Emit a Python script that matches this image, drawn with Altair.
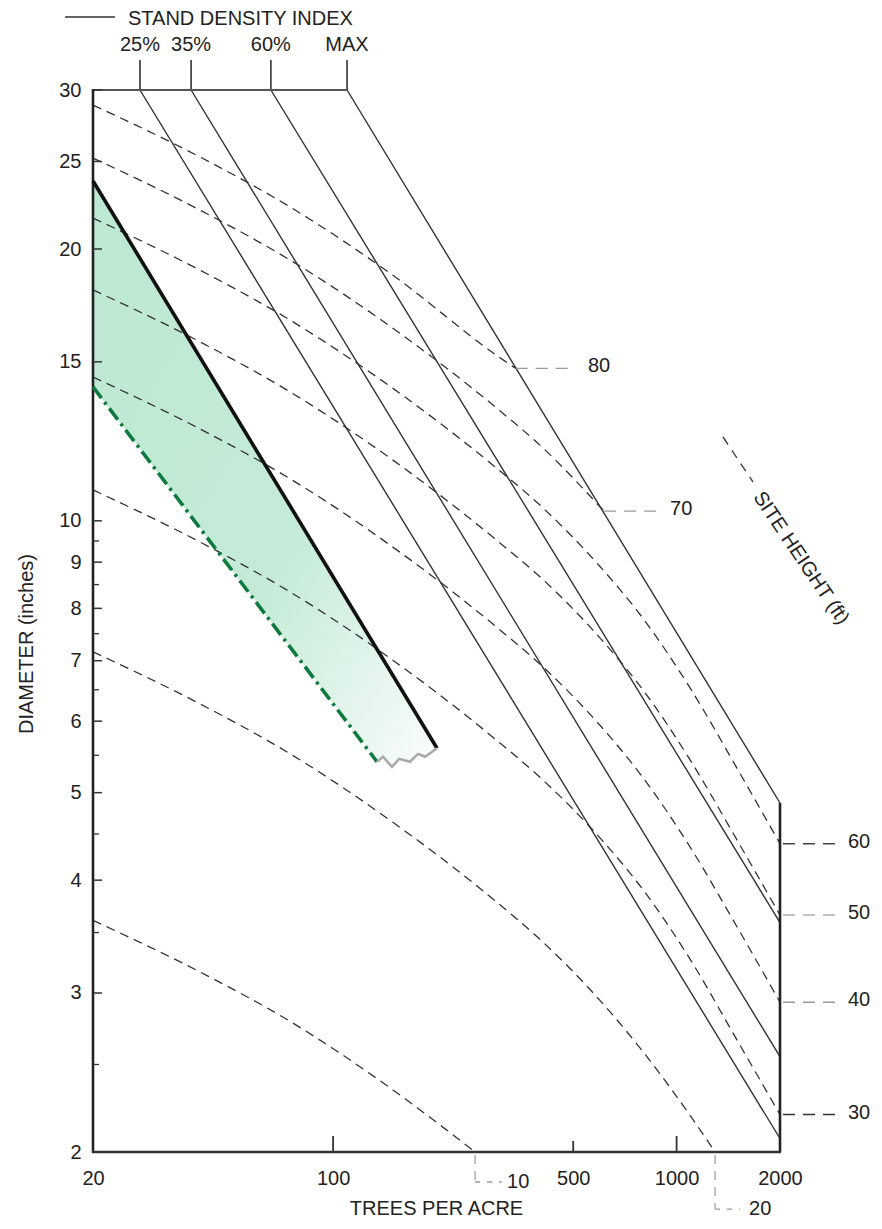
import altair as alt
import pandas as pd

FONT = "Liberation Sans"

# ---------------- data ----------------
# Site-height curves (dashed): trees per acre vs quadratic mean diameter
SITE_80_TPA = [20, 40, 75, 150, 300, 340]
SITE_80_DIA = [28.87, 25.41, 22.26, 18.68, 15.24, 14.75]
SITE_70_TPA = [20, 40, 75, 150, 300, 400, 615]
SITE_70_DIA = [25.22, 22.19, 19.44, 16.32, 13.32, 12.13, 10.25]
SITE_GRID_TPA = [20, 40, 75, 150, 300, 400, 600, 800, 1100, 1500, 2000]
SITE_60_DIA = [21.64, 19.04, 16.68, 14.00, 11.43, 10.41, 8.89, 7.79, 6.51, 5.32, 4.39]
SITE_50_DIA = [18.02, 15.86, 13.89, 11.66, 9.51, 8.67, 7.41, 6.49, 5.42, 4.43, 3.66]
SITE_40_DIA = [14.43, 12.70, 11.13, 9.34, 7.62, 6.94, 5.93, 5.19, 4.34, 3.55, 2.93]
SITE_30_DIA = [10.82, 9.52, 8.34, 7.00, 5.71, 5.20, 4.45, 3.90, 3.26, 2.66, 2.20]
SITE_20_TPA = [20, 40, 75, 150, 300, 400, 600, 800, 1100, 1294]
SITE_20_DIA = [7.16, 6.30, 5.52, 4.63, 3.78, 3.44, 2.94, 2.58, 2.19, 2.0]
SITE_10_TPA = [20, 40, 75, 150, 259]
SITE_10_DIA = [3.61, 3.18, 2.79, 2.34, 2.0]

# Site labels
RIGHT_SITE_LABELS = ["60", "50", "40", "30"]
RIGHT_SITE_DIA = [4.39, 3.66, 2.93, 2.20]
RIGHT_SITE_COLORS = ["#444444", "#b0b0b0", "#999999", "#333333"]
INNER_SITE_LABELS = ["80", "70"]
INNER_SITE_TPA = [340, 615]
INNER_SITE_DIA = [14.75, 10.25]
INNER_LEADER_END_TPA = [506, 883]
INNER_LABEL_TPA = [552, 957]
BOTTOM_SITE_LABELS = ["10", "20"]
BOTTOM_SITE_TPA = [259, 1294]
BOTTOM_LEADER_END_TPA = [310, 1530]
BOTTOM_LABEL_TPA = [321, 1625]
BOTTOM_LEADER_DIA = [1.853, 1.729]

# Stand density index lines
SDI_LABELS = ["25%", "35%", "60%", "MAX"]
SDI_TOP_TPA = [27.4, 38.6, 65.9, 109.8]
SDI_TOP_DIA = [30, 30, 30, 30]
SDI_END_TPA = [2000, 2000, 2000, 2000]
SDI_END_DIA = [2.07, 2.55, 3.59, 4.87]

# Management zone (shaded)
UPPER_TPA = [20, 200.7]
UPPER_DIA = [23.79, 5.60]
LOWER_TPA = [20, 134.2]
LOWER_DIA = [14.07, 5.41]
ZIGZAG_TPA = [134.2, 139.8, 148.4, 155.6, 167.4, 176.7, 185.2, 200.7]
ZIGZAG_DIA = [5.41, 5.48, 5.34, 5.45, 5.41, 5.52, 5.48, 5.60]
ZONE_TPA = [20, 134.2, 139.8, 148.4, 155.6, 167.4, 176.7, 185.2, 200.7]
ZONE_TOP = [23.79, 7.21, 7.03, 6.77, 6.57, 6.28, 6.07, 5.89, 5.60]
ZONE_BOTTOM = [14.07, 5.41, 5.48, 5.34, 5.45, 5.41, 5.52, 5.48, 5.60]

# Axis ticks
X_LABELS = [20, 100, 500, 1000, 2000]
X_TICKS_LONG = [100, 1000]
X_TICKS_SHORT = [500]
Y_MAJOR = [2, 3, 4, 5, 6, 7, 8, 9, 10, 15, 20, 25, 30]
Y_MINOR = [2.5, 3.5, 4.5, 5.5, 6.5, 7.5, 8.5, 9.5]

W, H = 687, 1062

# ---------------- scales / axes ----------------
XS = alt.Scale(type="log", domain=[20, 2000], nice=False)
YS = alt.Scale(type="log", domain=[2, 30], nice=False)
XAX = alt.Axis(values=X_LABELS, ticks=False, tickSize=0, domain=False, grid=False,
               labelFontSize=20, labelFont=FONT, labelColor="#222222", labelPadding=16,
               labelFlush=False, labelOverlap=False, format="d", title=None)
YAX = alt.Axis(values=Y_MAJOR, ticks=False, tickSize=0, domain=False, grid=False,
               labelFontSize=20, labelFont=FONT, labelColor="#222222", labelPadding=12,
               labelFlush=False, labelOverlap=False, format="d", title=None)


def X(f):
    return alt.X(f"{f}:Q", scale=XS, axis=XAX)


def Y(f):
    return alt.Y(f"{f}:Q", scale=YS, axis=YAX)


ONE = pd.DataFrame({"k": [0]})

# ---------------- tables ----------------
rows = []
for h, tt, dd in [(80, SITE_80_TPA, SITE_80_DIA), (70, SITE_70_TPA, SITE_70_DIA),
                  (60, SITE_GRID_TPA, SITE_60_DIA), (50, SITE_GRID_TPA, SITE_50_DIA),
                  (40, SITE_GRID_TPA, SITE_40_DIA), (30, SITE_GRID_TPA, SITE_30_DIA),
                  (20, SITE_20_TPA, SITE_20_DIA), (10, SITE_10_TPA, SITE_10_DIA)]:
    for t, d in zip(tt, dd):
        rows.append({"height": h, "tpa": t, "dia": d})
site_df = pd.DataFrame(rows)

sdi_df = pd.DataFrame({"label": SDI_LABELS, "tpa": SDI_TOP_TPA, "dia": SDI_TOP_DIA,
                       "tpa2": SDI_END_TPA, "dia2": SDI_END_DIA})
zone_df = pd.DataFrame({"tpa": ZONE_TPA, "top": ZONE_TOP, "bottom": ZONE_BOTTOM})
upper_df = pd.DataFrame({"tpa": UPPER_TPA, "dia": UPPER_DIA})
lower_df = pd.DataFrame({"tpa": LOWER_TPA, "dia": LOWER_DIA})
zig_df = pd.DataFrame({"tpa": ZIGZAG_TPA, "dia": ZIGZAG_DIA})

right_df = pd.DataFrame({"label": RIGHT_SITE_LABELS, "dia": RIGHT_SITE_DIA, "col": RIGHT_SITE_COLORS})
inner_df = pd.DataFrame({"label": INNER_SITE_LABELS, "tpa": INNER_SITE_TPA, "dia": INNER_SITE_DIA,
                         "tpa2": INNER_LEADER_END_TPA, "ltpa": INNER_LABEL_TPA})
bottom_df = pd.DataFrame({"label": BOTTOM_SITE_LABELS, "tpa": BOTTOM_SITE_TPA,
                          "tpa2": BOTTOM_LEADER_END_TPA, "ltpa": BOTTOM_LABEL_TPA,
                          "dia": [1.985, 1.985], "dia2": BOTTOM_LEADER_DIA,
                          "ldia": BOTTOM_LEADER_DIA})

ymaj_df = pd.DataFrame({"dia": Y_MAJOR})
ymin_df = pd.DataFrame({"dia": Y_MINOR})
xlong_df = pd.DataFrame({"tpa": X_TICKS_LONG})
xshort_df = pd.DataFrame({"tpa": X_TICKS_SHORT})
frame_top_df = pd.DataFrame({"tpa": [20], "tpa2": [SDI_TOP_TPA[-1]], "dia": [30]})
frame_right_df = pd.DataFrame({"dia": [2], "dia2": [SDI_END_DIA[-1]]})

# ---------------- layers ----------------
zone = alt.Chart(zone_df).mark_area(
    color=alt.Gradient(gradient="linear",
                       stops=[alt.GradientStop(color="#bce8d1", offset=0),
                              alt.GradientStop(color="#c5ebd8", offset=0.6),
                              alt.GradientStop(color="#fbfdfc", offset=1)],
                       x1=0, y1=0, x2=1, y2=1),
    opacity=1
).encode(x=X("tpa"), y=Y("top"), y2="bottom:Q")

site = alt.Chart(site_df).mark_line(
    color="#333333", strokeWidth=1.3, strokeDash=[9, 6], interpolate="monotone"
).encode(x=X("tpa"), y=Y("dia"), detail="height:N", order="tpa:Q")

sdi = alt.Chart(sdi_df).mark_rule(color="#333333", strokeWidth=1.4).encode(
    x=X("tpa"), y=Y("dia"), x2="tpa2:Q", y2="dia2:Q")

sdi_ext = alt.Chart(sdi_df).mark_rule(color="#333333", strokeWidth=1.6).encode(
    x=X("tpa"), y=alt.value(-30), y2=alt.value(0))

sdi_lab = alt.Chart(sdi_df).mark_text(font=FONT, fontSize=20, color="#222222",
                                      align="center", baseline="middle").encode(
    x=X("tpa"), y=alt.value(-45), text="label:N")

legend_line = alt.Chart(ONE).mark_rule(color="#333333", strokeWidth=1.3).encode(
    x=alt.value(-28), x2=alt.value(22), y=alt.value(-73))
legend_text = alt.Chart(ONE).mark_text(
    font=FONT, fontSize=20, color="#222222", align="left", baseline="middle",
    text="STAND DENSITY INDEX").encode(x=alt.value(35), y=alt.value(-71))

upper = alt.Chart(upper_df).mark_line(color="#111111", strokeWidth=3.6).encode(
    x=X("tpa"), y=Y("dia"))
lower = alt.Chart(lower_df).mark_line(color="#0f7a3e", strokeWidth=3.6,
                                      strokeDash=[14, 5, 3, 5]).encode(x=X("tpa"), y=Y("dia"))
zig = alt.Chart(zig_df).mark_line(color="#a8a8a8", strokeWidth=2.5).encode(
    x=X("tpa"), y=Y("dia"), order="tpa:Q")

# frame pieces
left_axis = alt.Chart(ONE).mark_rule(color="#222222", strokeWidth=2.6).encode(
    x=alt.value(0), y=alt.value(-1), y2=alt.value(H + 1))
bottom_axis = alt.Chart(ONE).mark_rule(color="#333333", strokeWidth=2.6).encode(
    x=alt.value(-1), x2=alt.value(W + 1), y=alt.value(H))
top_frame = alt.Chart(frame_top_df).mark_rule(color="#555555", strokeWidth=2).encode(
    x=X("tpa"), x2="tpa2:Q", y=Y("dia"))
right_axis = alt.Chart(frame_right_df).mark_rule(color="#222222", strokeWidth=2.6).encode(
    x=alt.value(W), y=Y("dia"), y2="dia2:Q")

ymaj = alt.Chart(ymaj_df).mark_rule(color="#333333", strokeWidth=1.5).encode(
    x=alt.value(0), x2=alt.value(9), y=Y("dia"))
ymin = alt.Chart(ymin_df).mark_rule(color="#333333", strokeWidth=1.3).encode(
    x=alt.value(0), x2=alt.value(6), y=Y("dia"))
xlong = alt.Chart(xlong_df).mark_rule(color="#333333", strokeWidth=1.8).encode(
    x=X("tpa"), y=alt.value(H - 16), y2=alt.value(H))
xshort = alt.Chart(xshort_df).mark_rule(color="#333333", strokeWidth=1.8).encode(
    x=X("tpa"), y=alt.value(H - 11), y2=alt.value(H))

# site height labels
right_lead = alt.Chart(right_df).mark_rule(strokeWidth=1.5, strokeDash=[12, 8]).encode(
    x=alt.value(W + 3), x2=alt.value(W + 57), y=Y("dia"),
    color=alt.Color("col:N", scale=None))
right_lab = alt.Chart(right_df).mark_text(font=FONT, fontSize=20, color="#222222",
                                          align="left", baseline="middle", dy=-2).encode(
    x=alt.value(W + 68), y=Y("dia"), text="label:N")

inner_lead = alt.Chart(inner_df).mark_rule(color="#999999", strokeWidth=1.4, strokeDash=[12, 8]).encode(
    x=X("tpa"), x2="tpa2:Q", y=Y("dia"))
inner_lab = alt.Chart(inner_df).mark_text(font=FONT, fontSize=20, color="#222222",
                                          align="left", baseline="middle", dy=-2).encode(
    x=X("ltpa"), y=Y("dia"), text="label:N")

bottom_vert = alt.Chart(bottom_df).mark_rule(color="#aaaaaa", strokeWidth=1.4, strokeDash=[9, 7]).encode(
    x=X("tpa"), y=Y("dia"), y2="dia2:Q")
bottom_horz = alt.Chart(bottom_df).mark_rule(color="#999999", strokeWidth=1.4, strokeDash=[5, 7]).encode(
    x=X("tpa"), x2="tpa2:Q", y=Y("dia2"))
bottom_lab = alt.Chart(bottom_df).mark_text(font=FONT, fontSize=20, color="#222222",
                                            align="left", baseline="middle").encode(
    x=X("ltpa"), y=Y("ldia"), text="label:N")

site_title_dash = alt.Chart(ONE).mark_rule(
    color="#444444", strokeWidth=1.4, strokeDash=[9, 7]).encode(
    x=alt.value(630), x2=alt.value(660), y=alt.value(347), y2=alt.value(392))
site_title = alt.Chart(ONE).mark_text(
    font=FONT, fontSize=20, color="#222222", align="center", baseline="middle",
    angle=56, text="SITE HEIGHT (ft)").encode(x=alt.value(708), y=alt.value(468))

x_title = alt.Chart(ONE).mark_text(
    font=FONT, fontSize=20, color="#222222", align="center", baseline="middle",
    text="TREES PER ACRE").encode(x=alt.value(W / 2), y=alt.value(1119))
y_title = alt.Chart(ONE).mark_text(
    font=FONT, fontSize=20, color="#222222", align="center", baseline="middle",
    angle=270, text="DIAMETER (inches)").encode(x=alt.value(-66), y=alt.value(554))

chart = alt.layer(
    zone, site, sdi, sdi_ext, top_frame, right_axis, left_axis, bottom_axis,
    ymaj, ymin, xlong, xshort, upper, lower, zig,
    right_lead, right_lab, inner_lead, inner_lab, bottom_vert, bottom_horz, bottom_lab,
    sdi_lab, legend_line, legend_text, site_title_dash, site_title, x_title, y_title
).properties(
    width=W, height=H,
    padding={"left": 85, "top": 82, "right": 90, "bottom": 69},
    autosize=alt.AutoSizeParams(type="none"),
).configure_view(stroke=None)

chart.save("out.html", embed_options={"renderer": "svg", "actions": False})
